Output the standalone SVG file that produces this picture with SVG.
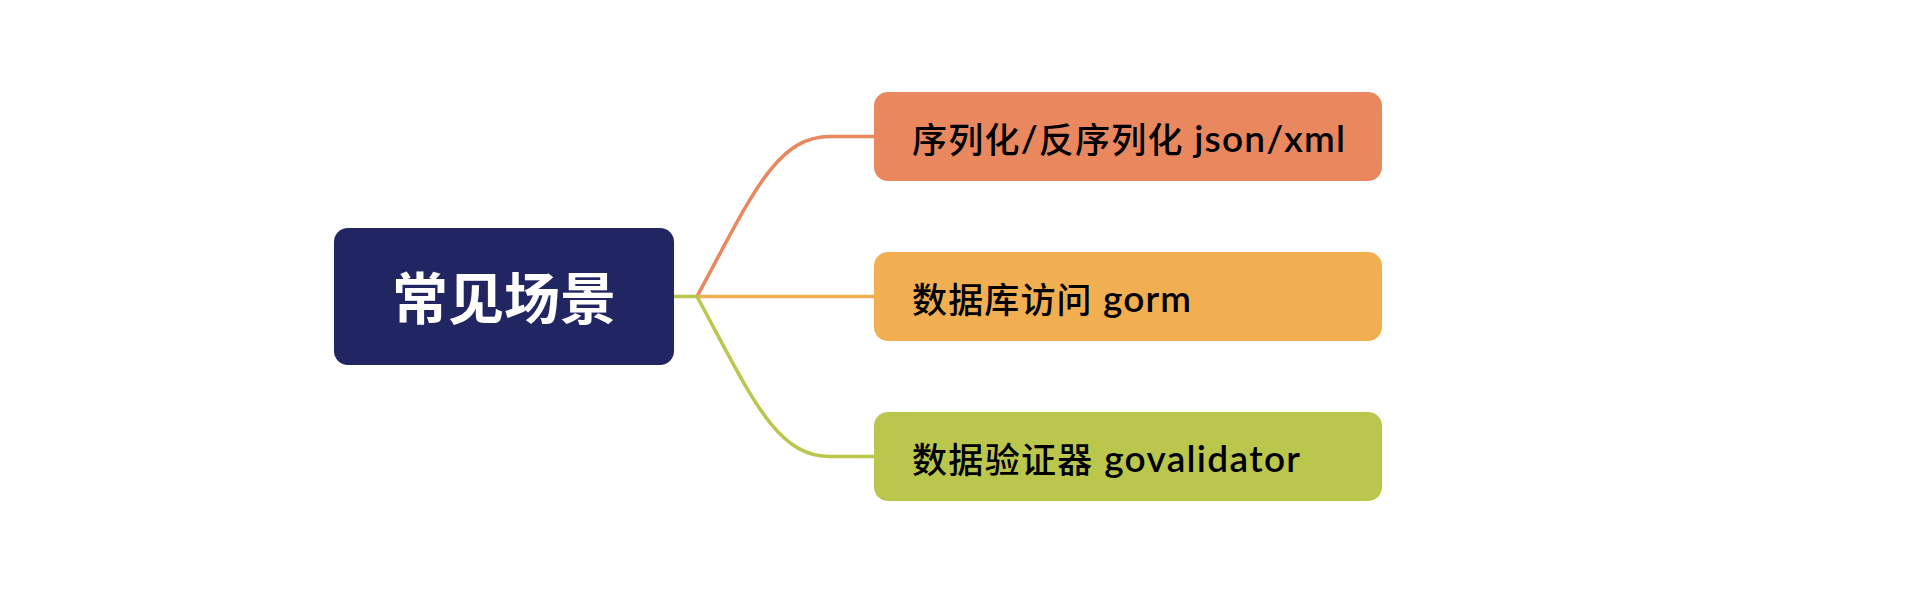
<svg xmlns="http://www.w3.org/2000/svg" width="1928" height="590" viewBox="0 0 1928 590">
<style>
.conn{fill:none;stroke-width:3.5;stroke-linecap:round}
.root-t{font-family:"Lato","Noto Sans CJK SC",sans-serif;font-weight:700;font-size:56px;fill:#ffffff}
.child-t{font-family:"Noto Sans CJK SC",sans-serif;font-weight:500;font-size:35px;fill:#000000}
.lat{font-family:"Lato",sans-serif;font-weight:600;font-size:37px}
</style>
<rect width="1928" height="590" fill="#ffffff"/>
<g id="connectors">
<path class="conn" stroke="#BBC64D" d="M674,296.5 L697,296.5"/>
<path class="conn" stroke="#E9875F" d="M697,296.5 C752,195 776,136.5 830,136.5 L874,136.5"/>
<path class="conn" stroke="#F2AF52" d="M697,296.5 L874,296.5"/>
<path class="conn" stroke="#BBC64D" d="M697,296.5 C752,398 776,456.5 830,456.5 L874,456.5"/>
</g>
<g id="root">
<rect x="334" y="228" width="340" height="137" rx="14" fill="#212663"/>
<text class="root-t" x="504" y="297" text-anchor="middle" dominant-baseline="central">常见场景</text>
</g>
<g id="node-serialize">
<rect x="874" y="92" width="508" height="89" rx="14" fill="#E9875F"/>
<text class="child-t" x="912" y="137" dominant-baseline="central" textLength="433" lengthAdjust="spacing">序列化<tspan class="lat">/</tspan>反序列化<tspan class="lat"> json/xml</tspan></text>
</g>
<g id="node-gorm">
<rect x="874" y="252" width="508" height="89" rx="14" fill="#F2AF52"/>
<text class="child-t" x="912" y="297" dominant-baseline="central" textLength="279" lengthAdjust="spacing">数据库访问<tspan class="lat"> gorm</tspan></text>
</g>
<g id="node-validator">
<rect x="874" y="412" width="508" height="89" rx="14" fill="#BBC64D"/>
<text class="child-t" x="912" y="457" dominant-baseline="central" textLength="388" lengthAdjust="spacing">数据验证器<tspan class="lat"> govalidator</tspan></text>
</g>
</svg>
